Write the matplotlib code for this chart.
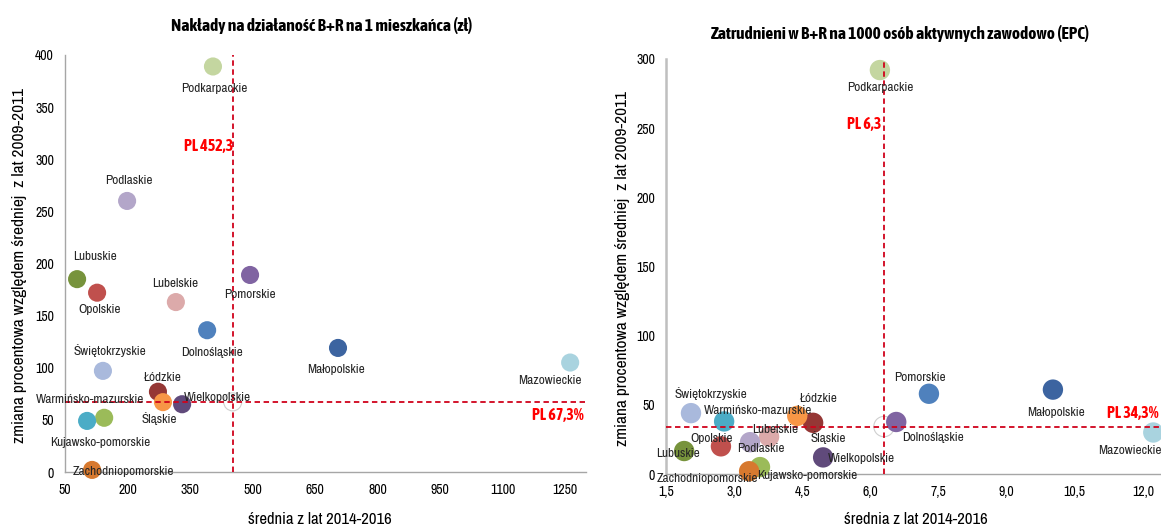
import matplotlib
matplotlib.use('Agg')
import matplotlib.pyplot as plt

plt.rcParams['font.family'] = ['Liberation Sans Narrow', 'Archivo Narrow', 'Liberation Sans', 'DejaVu Sans']
BOLD_FONT = ['Asap Condensed', 'Liberation Sans', 'DejaVu Sans']

# regions (same order in both charts)
regions = ['Dolnośląskie', 'Kujawsko-pomorskie', 'Lubelskie', 'Lubuskie', 'Łódzkie',
           'Małopolskie', 'Mazowieckie', 'Opolskie', 'Podkarpackie', 'Podlaskie',
           'Pomorskie', 'Śląskie', 'Świętokrzyskie', 'Warmińsko-mazurskie',
           'Wielkopolskie', 'Zachodniopomorskie']

colours = ['#4f81bd', '#9bbb59', '#dcaaaa', '#77933c', '#953735',
           '#3c64a0', '#a9d3df', '#c0504d', '#c4d6a0', '#b3a6c9',
           '#8064a2', '#f79646', '#a9b9dc', '#4bacc6',
           '#604a7b', '#d7792f']

# left chart: R&D spending per inhabitant (zl)
spend_avg = [391, 144, 316, 79, 273, 705, 1262, 127, 405, 199, 494, 285, 141, 103, 331, 115]
spend_change = [136, 52, 163, 185, 77, 119, 105, 172, 389, 260, 189, 67, 97, 49, 65, 2]
spend_pl = (452.3, 67.3)

# right chart: R&D employment per 1000 economically active (EPC)
epc_avg = [7.29, 3.57, 3.77, 1.90, 4.74, 10.02, 12.23, 2.71, 6.21, 3.35, 6.57, 4.39, 2.05, 2.78, 4.96, 3.33]
epc_change = [58, 5, 27, 16.6, 37, 61, 30, 20, 292, 23, 37.6, 42, 44, 38, 12, 2]
epc_pl = (6.3, 34.3)

left_xticks = [50, 200, 350, 500, 650, 800, 950, 1100, 1250]
left_yticks = [0, 50, 100, 150, 200, 250, 300, 350, 400]
right_xticks = [1.5, 3.0, 4.5, 6.0, 7.5, 9.0, 10.5, 12.0]
right_yticks = [0, 50, 100, 150, 200, 250, 300]

# label offsets in pixels (dx, dy)
left_offsets = [(5, -22), (-4, -25), (-1, 19), (18, 23), (4, 14), (-2, -22), (-20, -18),
                (3, -17), (1, -22), (2, 20), (0, -20), (-4, -16), (7, 20), (3, 21),
                (35, 7), (31, -2)]
right_offsets = [(4, -44), (47, -8), (6, 7), (-6, -2), (5, 24), (3, -23), (-23, -18),
                 (-9, 8), (0, -17), (11, -6), (24, 44), (31, -22), (20, 20), (34, 11),
                 (38, -1), (-42, -7)]

W, H = 1161, 529
fig = plt.figure(figsize=(W / 100, H / 100), dpi=100)

ax1 = fig.add_axes([65 / W, 1 - 472 / H, (586 - 65) / W, (472 - 55) / H])
ax2 = fig.add_axes([666 / W, 1 - 474 / H, (1161 - 666) / W, (474 - 59) / H])


def draw(ax, xs, ys, offsets, pl, msize):
    for x, y, c, name, off in zip(xs, ys, colours, regions, offsets):
        ax.scatter(x, y, s=msize, color=c, edgecolor='none', zorder=3, clip_on=False)
        ax.annotate(name, (x, y), xytext=off, textcoords='offset pixels',
                    ha='center', va='center', fontsize=9.5, color='#262626', zorder=5)
    ax.scatter(pl[0], pl[1], s=msize, facecolor='none', edgecolor='#cfcfcf',
               linewidth=0.8, zorder=2)
    ax.axvline(pl[0], color='#d0021b', linestyle=(0, (3, 2)), linewidth=1.3, zorder=4)
    ax.axhline(pl[1], color='#d0021b', linestyle=(0, (3, 2)), linewidth=1.3, zorder=4)
    for side in ['top', 'right']:
        ax.spines[side].set_visible(False)
    for side in ['left', 'bottom']:
        ax.spines[side].set_color('#a6a6a6')
        ax.spines[side].set_linewidth(1.0)
    ax.tick_params(length=0, labelsize=10, pad=8)


def pl_text(ax, x, y, s):
    ax.text(x, y, s, color='#ff0000', fontweight='bold', family=BOLD_FONT,
            fontsize=11.5, ha='right', va='center', zorder=6)


draw(ax1, spend_avg, spend_change, left_offsets, spend_pl, 170)
ax1.set_xlim(50, 1300)
ax1.set_ylim(0, 400)
ax1.set_xticks(left_xticks)
ax1.set_yticks(left_yticks)
pl_text(ax1, spend_pl[0] + 2, 313, 'PL 452,3')
pl_text(ax1, 1295, 55, 'PL 67,3%')

draw(ax2, epc_avg, epc_change, right_offsets, epc_pl, 215)
ax2.set_xlim(1.5, 12.4)
ax2.set_ylim(0, 300)
ax2.set_xticks(right_xticks)
ax2.set_xticklabels([f'{v:.1f}'.replace('.', ',') for v in right_xticks])
ax2.set_yticks(right_yticks)
ax2.spines['left'].set_color('#bfbfbf')
ax2.spines['left'].set_linewidth(1.8)
pl_text(ax2, epc_pl[0] - 0.05, 253, 'PL 6,3')
pl_text(ax2, 12.35, 44, 'PL 34,3%')

# titles
fig.text(322 / W, 1 - 26 / H, 'Nakłady na działaność B+R na 1 mieszkańca (zł)',
         ha='center', va='center', fontsize=12.5, fontweight='bold', family=BOLD_FONT)
fig.text(900 / W, 1 - 33 / H, 'Zatrudnieni w B+R na 1000 osób aktywnych zawodowo (EPC)',
         ha='center', va='center', fontsize=12.5, fontweight='bold', family=BOLD_FONT)

# axis labels
ylab = 'zmiana procentowa względem średniej  z lat 2009-2011'
fig.text(20 / W, 1 - 265 / H, ylab, rotation=90, ha='center', va='center', fontsize=12.5)
fig.text(622 / W, 1 - 268 / H, ylab, rotation=90, ha='center', va='center', fontsize=12.5)
fig.text(320 / W, 1 - 520 / H, 'średnia z lat 2014-2016', ha='center', va='center', fontsize=12)
fig.text(916 / W, 1 - 520 / H, 'średnia z lat 2014-2016', ha='center', va='center', fontsize=12)

fig.savefig('out.png', dpi=100)
